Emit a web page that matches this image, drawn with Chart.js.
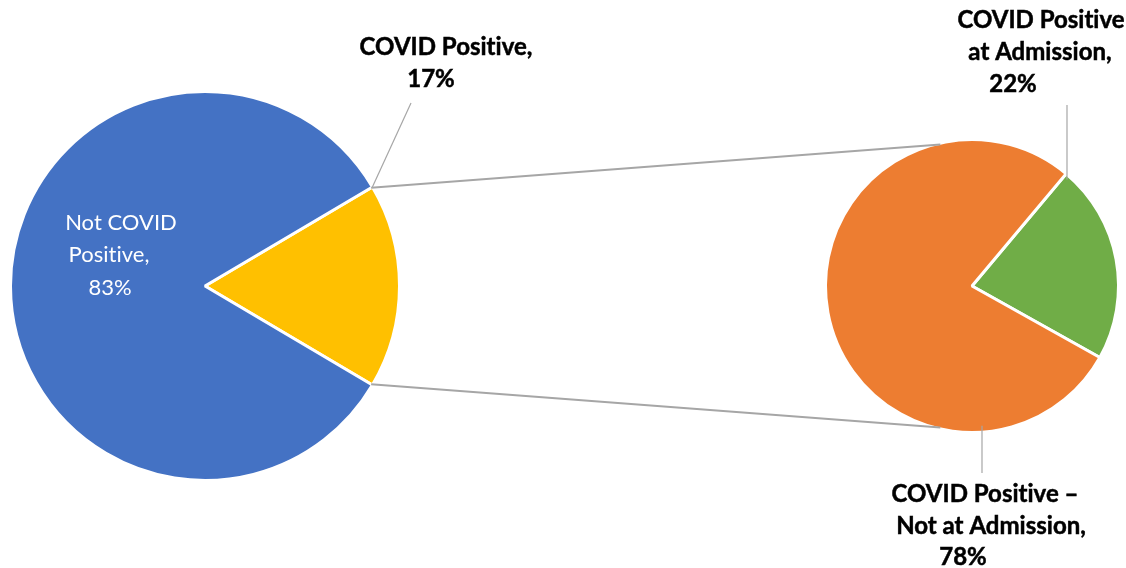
<!DOCTYPE html>
<html><head><meta charset="utf-8">
<script src="https://cdn.jsdelivr.net/npm/chart.js"></script>
<style>
html,body{margin:0;padding:0;background:#fff}
#wrap{position:relative;width:1126px;height:568px}
canvas{position:absolute;left:0;top:0}
</style></head>
<body><div id="wrap"><canvas id="c1" width="1126" height="568"></canvas><canvas id="c2" width="1126" height="568"></canvas></div>
<script>
const mainCategories = ['COVID Positive', 'Not COVID Positive'];
const mainValues = [17, 83];
const mainColors = ['#FFC000', '#4472C4'];
const mainLabelLines = [['COVID Positive,', '17%'], ['Not COVID', 'Positive,', '83%']];

const subCategories = ['COVID Positive at Admission', 'COVID Positive – Not at Admission'];
const subValues = [22, 78];
const subColors = ['#70AD47', '#ED7D31'];
const subLabelLines = [['COVID Positive', 'at Admission,', '22%'], ['COVID Positive –', 'Not at Admission,', '78%']];

// layout (positions of label text lines and leader ends)
const mainLabelLayout = [
  {xs: [446, 431], ys: [55, 87], font: 'bold 24px Lato', color: '#000', bold: true, leaderTo: [411, 103]},
  {xs: [121, 109, 110], ys: [230, 262, 295], font: '22px Lato', color: '#fff', bold: false, leaderTo: null}
];
const subLabelLayout = [
  {xs: [1041, 1040, 1013], ys: [28, 60, 92], font: 'bold 24px Lato', color: '#000', bold: true, leaderX: 1067, leaderTo: 105},
  {xs: [985, 991, 963], ys: [502, 534, 565], font: 'bold 24px Lato', color: '#000', bold: true, leaderX: 982, leaderTo: 473}
];

function sum(a){return a.reduce((s,v)=>s+v,0);}

function drawLines(ctx, lines, lay){
  ctx.save();
  ctx.font = lay.font; ctx.fillStyle = lay.color; ctx.strokeStyle = lay.color;
  try { ctx.letterSpacing = '0.01px'; } catch(e) {}
  ctx.textAlign = 'center'; ctx.textBaseline = 'alphabetic';
  ctx.lineWidth = 0.5;
  lines.forEach((t,i)=>{
    ctx.fillText(t, lay.xs[i], lay.ys[i]);
    if (lay.bold) ctx.strokeText(t, lay.xs[i], lay.ys[i]);
  });
  ctx.restore();
}

const mainPlugin = {
  id: 'mainLabels',
  afterDraw(chart){
    const ctx = chart.ctx;
    const arcs = chart.getDatasetMeta(0).data;
    const a = arcs[0].getProps(['x','y','startAngle','outerRadius'], true);
    const lay0 = mainLabelLayout[0];
    ctx.save();
    ctx.strokeStyle = '#A6A6A6'; ctx.lineWidth = 1.2;
    ctx.beginPath();
    ctx.moveTo(a.x + a.outerRadius*Math.cos(a.startAngle), a.y + a.outerRadius*Math.sin(a.startAngle));
    ctx.lineTo(lay0.leaderTo[0], lay0.leaderTo[1]);
    ctx.stroke();
    ctx.restore();
    mainLabelLines.forEach((lines,i)=>drawLines(ctx, lines, mainLabelLayout[i]));
  }
};

const chart1 = new Chart(document.getElementById('c1'), {
  type: 'pie',
  data: {labels: mainCategories, datasets: [{data: mainValues, backgroundColor: mainColors, borderColor: '#fff', borderWidth: 3}]},
  options: {
    responsive: false, animation: false,
    rotation: 90 - mainValues[0]/sum(mainValues)*180,
    layout: {padding: {left: 9, right: 725, top: 90, bottom: 86}},
    plugins: {legend: {display: false}, tooltip: {enabled: false}}
  },
  plugins: [mainPlugin]
});

const subPlugin = {
  id: 'subLabels',
  afterDraw(chart){
    const ctx = chart.ctx;
    const arcs = chart.getDatasetMeta(0).data;
    const m = chart1.getDatasetMeta(0).data[0].getProps(['x','y','startAngle','endAngle','outerRadius'], true);
    const s = arcs[0].getProps(['x','y','startAngle','endAngle','outerRadius'], true);
    const r = s.outerRadius - 1.5;
    const off = 0.22;
    const topA = -Math.PI/2 - off, botA = Math.PI/2 + off;
    ctx.save();
    ctx.strokeStyle = '#A6A6A6'; ctx.lineWidth = 2;
    ctx.beginPath();
    ctx.moveTo(m.x + (m.outerRadius-1.5)*Math.cos(m.startAngle), m.y + (m.outerRadius-1.5)*Math.sin(m.startAngle));
    ctx.lineTo(s.x + r*Math.cos(topA), s.y + r*Math.sin(topA));
    ctx.moveTo(m.x + (m.outerRadius-1.5)*Math.cos(m.endAngle), m.y + (m.outerRadius-1.5)*Math.sin(m.endAngle));
    ctx.lineTo(s.x + r*Math.cos(botA), s.y + r*Math.sin(botA));
    ctx.stroke();
    ctx.lineWidth = 1.2;
    subLabelLayout.forEach((lay, i)=>{
      const dx = lay.leaderX - s.x;
      const dy = Math.sqrt(Math.max(r*r - dx*dx, 0));
      const y0 = i === 0 ? s.y - dy + 3 : s.y + dy - 5;
      ctx.beginPath();
      ctx.moveTo(lay.leaderX, y0);
      ctx.lineTo(lay.leaderX, lay.leaderTo);
      ctx.stroke();
    });
    ctx.restore();
    subLabelLines.forEach((lines,i)=>drawLines(ctx, lines, subLabelLayout[i]));
  }
};

const chart2 = new Chart(document.getElementById('c2'), {
  type: 'pie',
  data: {labels: subCategories, datasets: [{data: subValues, backgroundColor: subColors, borderColor: '#fff', borderWidth: 3}]},
  options: {
    responsive: false, animation: false,
    rotation: 40,
    layout: {padding: {left: 824, right: 6, top: 138, bottom: 134}},
    plugins: {legend: {display: false}, tooltip: {enabled: false}}
  },
  plugins: [subPlugin]
});
</script>
</body></html>
